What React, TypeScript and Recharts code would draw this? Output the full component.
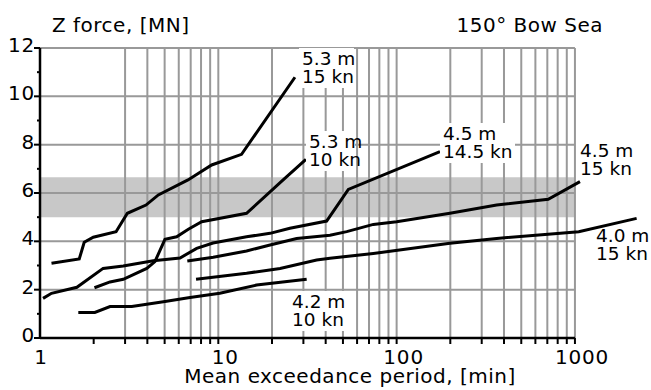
import { LineChart, Line, XAxis, YAxis, ReferenceLine, ReferenceArea } from "recharts";

const FONT = "'DejaVu Sans', Verdana, sans-serif";

// each curve: mean exceedance period [min] vs Z force [MN]
const h53k15X = [1.16, 1.66, 1.77, 1.99, 2.67, 3.09, 3.93, 4.61, 6.76, 9.18, 13.5, 26.9];
const h53k15Y = [3.09, 3.27, 3.96, 4.17, 4.4, 5.16, 5.5, 5.92, 6.54, 7.16, 7.6, 10.79];

const h53k10X = [2.02, 2.47, 2.93, 3.97, 4.41, 5.02, 5.84, 6.79, 8.07, 14.4, 23.1, 31.0];
const h53k10Y = [2.08, 2.32, 2.43, 2.88, 3.16, 4.08, 4.19, 4.5, 4.81, 5.16, 6.54, 7.39];

const h45k145X = [1.04, 1.16, 1.61, 2.26, 2.93, 4.32, 6.1, 7.56, 9.34, 14.4, 19.5, 25.2, 40.5, 53.6, 175];
const h45k145Y = [1.64, 1.85, 2.1, 2.88, 2.98, 3.2, 3.31, 3.71, 3.93, 4.19, 4.33, 4.54, 4.84, 6.15, 7.71];

const h45k15X = [6.7, 9.37, 14.4, 19.5, 27.5, 42.3, 52.5, 74, 100, 199, 364, 708, 1067];
const h45k15Y = [3.19, 3.34, 3.6, 3.85, 4.12, 4.25, 4.4, 4.7, 4.81, 5.16, 5.5, 5.74, 6.47];

const h40k15X = [7.5, 14.4, 22.2, 35.6, 42.3, 74, 199, 364, 1050, 2218];
const h40k15Y = [2.43, 2.68, 2.88, 3.23, 3.3, 3.5, 3.92, 4.12, 4.4, 4.95];

const h42k10X = [1.64, 2.03, 2.47, 3.27, 4.92, 6.94, 10.2, 16.4, 31.3];
const h42k10Y = [1.06, 1.06, 1.3, 1.3, 1.5, 1.68, 1.85, 2.19, 2.43];

const xTicks = [1, 2, 3, 4, 5, 6, 7, 8, 9, 10, 20, 30, 40, 50, 60, 70, 80, 90, 100, 200, 300, 400, 500, 600, 700, 800, 900, 1000];
const xLabels = [1, 10, 100, 1000];
const gridX = [3, 4, 5, 6, 7, 8, 9, 10, 20, 30, 40, 50, 60, 70, 80, 90, 100, 200, 300, 400, 500, 600, 700, 800, 900, 1000];
const yTicks = [0, 1, 2, 3, 4, 5, 6, 7, 8, 9, 10, 11, 12];
const gridY = [2, 4, 6, 8, 10, 12];
const band = [5.0, 6.65];

const zip = (xs: number[], ys: number[]) => xs.map((x, i) => ({ x, y: ys[i] }));

const curves = [
  zip(h53k15X, h53k15Y),
  zip(h53k10X, h53k10Y),
  zip(h45k145X, h45k145Y),
  zip(h45k15X, h45k15Y),
  zip(h40k15X, h40k15Y),
  zip(h42k10X, h42k10Y),
];

const curveLabels = [
  { lines: ["5.3 m", "15 kn"], x: 302, y: 65, w: 55, box: true },
  { lines: ["5.3 m", "10 kn"], x: 309, y: 148, w: 49, box: true },
  { lines: ["4.5 m", "14.5 kn"], x: 443, y: 140, w: 75, box: true },
  { lines: ["4.5 m", "15 kn"], x: 580, y: 157, w: 0, box: false },
  { lines: ["4.0 m", "15 kn"], x: 596, y: 242, w: 0, box: false },
  { lines: ["4.2 m", "10 kn"], x: 292, y: 308, w: 56, box: true },
];

function XTick(props: any) {
  const { x, y, payload } = props;
  const v = payload.value;
  const show = xLabels.includes(v);
  return (
    <g>
      {v !== 1 && <line x1={x} y1={y} x2={x} y2={y + 6} stroke="#000" strokeWidth={2} />}
      {show && (
        <text x={x + (v === 1 ? 1 : 7)} y={y + 26} textAnchor="middle" fontSize={20} fontFamily={FONT} letterSpacing={0.8} fill="#000">
          {v}
        </text>
      )}
    </g>
  );
}

function YTick(props: any) {
  const { x, y, payload } = props;
  const v = payload.value;
  const major = v % 2 === 0;
  return (
    <g>
      <line x1={x - (major ? 6 : 3)} y1={y} x2={x} y2={y} stroke="#000" strokeWidth={2} />
      {major && (
        <text x={x - 5} y={y + 4} textAnchor="end" fontSize={20} fontFamily={FONT} letterSpacing={0.8} fill="#000">
          {v}
        </text>
      )}
    </g>
  );
}

export default function App() {
  return (
    <div style={{ position: "relative", width: 651, height: 390, background: "#fff" }}>
      <style>{`body{margin:0}`}</style>
      <LineChart width={651} height={390} margin={{ top: 48, right: 0, bottom: 0, left: 0 }}>
        <XAxis
          type="number"
          dataKey="x"
          scale="log"
          domain={[1, 2670]}
          ticks={xTicks}
          interval={0}
          height={52}
          axisLine={false}
          tickLine={false}
          tickSize={0}
          tickMargin={0}
          tick={<XTick />}
        />
        <YAxis
          type="number"
          domain={[0, 12]}
          ticks={yTicks}
          interval={0}
          width={40}
          axisLine={{ stroke: "#000", strokeWidth: 2.5 }}
          tickLine={false}
          tickSize={0}
          tickMargin={0}
          tick={<YTick />}
        />
        <ReferenceArea x1={1} x2={1000} y1={band[0]} y2={band[1]} fill="#c8c8c8" fillOpacity={1} stroke="none" />
        {gridX.map((v) => (
          <ReferenceLine key={"gx" + v} segment={[{ x: v, y: 0 }, { x: v, y: 12 }]} stroke="#999" strokeWidth={2} />
        ))}
        {gridY.map((v) => (
          <ReferenceLine key={"gy" + v} segment={[{ x: 1, y: v }, { x: 1000, y: v }]} stroke="#999" strokeWidth={2} />
        ))}
        <ReferenceLine segment={[{ x: 1, y: 0 }, { x: 1000, y: 0 }]} stroke="#000" strokeWidth={2.5} />
        {curves.map((d, i) => (
          <Line
            key={i}
            data={d}
            dataKey="y"
            type="linear"
            stroke="#000"
            strokeWidth={3}
            dot={false}
            isAnimationActive={false}
          />
        ))}
      </LineChart>
      <svg width={651} height={390} style={{ position: "absolute", left: 0, top: 0, pointerEvents: "none" }}>
        <text x={52} y={32} fontSize={20} fontFamily={FONT} letterSpacing={0.5} fill="#000">
          Z force, [MN]
        </text>
        <text x={603} y={32} textAnchor="end" fontSize={20} fontFamily={FONT} letterSpacing={0.5} fill="#000">
          150° Bow Sea
        </text>
        <text x={350} y={383} textAnchor="middle" fontSize={20} fontFamily={FONT} letterSpacing={0.5} fill="#000">
          Mean exceedance period, [min]
        </text>
        {curveLabels.map((l, i) => (
          <g key={i}>
            {l.box && <rect x={l.x - 3} y={l.y - 17} width={l.w} height={40} fill="#fff" />}
            {l.lines.map((t, j) => (
              <text key={j} x={l.x} y={l.y + j * 18} fontSize={18.5} fontFamily={FONT} fill="#000">
                {t}
              </text>
            ))}
          </g>
        ))}
      </svg>
    </div>
  );
}
